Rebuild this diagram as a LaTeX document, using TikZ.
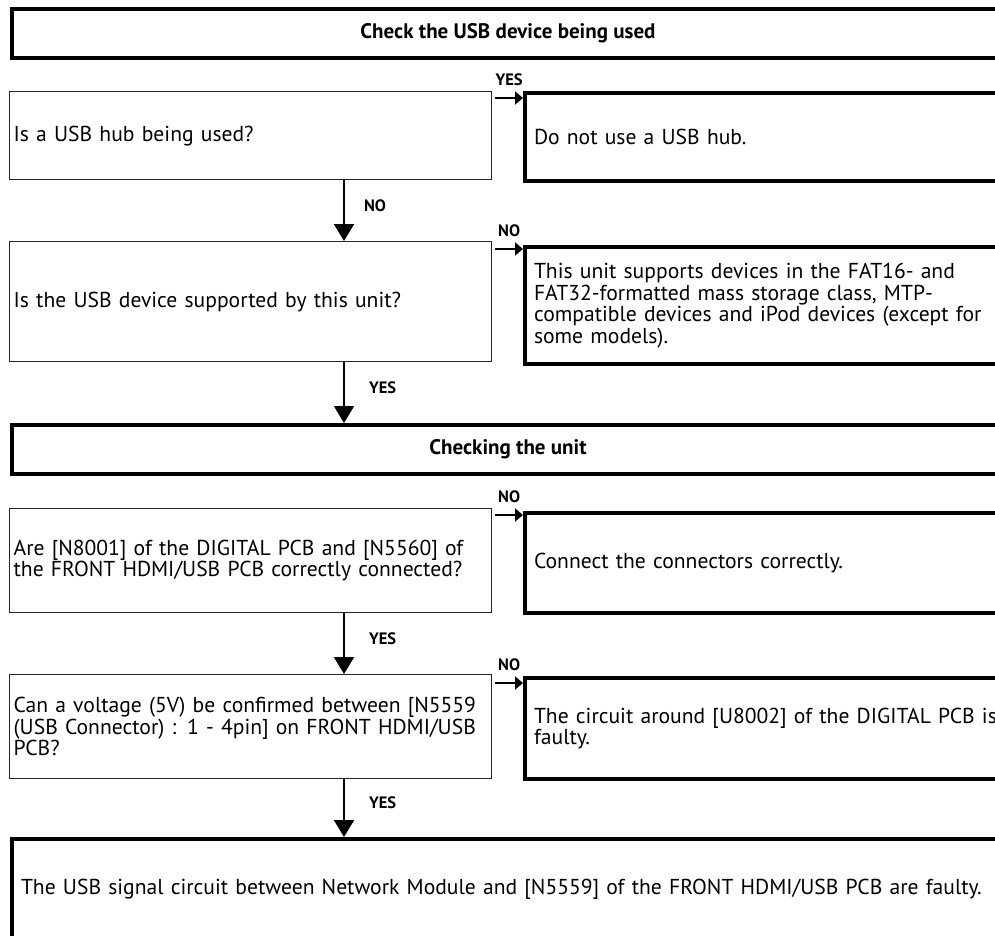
\documentclass[tikz,border=0pt]{standalone}
\usepackage{fontspec}
\setmainfont{PT Sans}
\usetikzlibrary{arrows.meta}

\begin{document}
\begin{tikzpicture}[x=1pt,y=-1pt,font=\fontsize{21.6}{21.5}\selectfont,
    headbox/.style={draw,line width=4pt,anchor=north west,minimum width=992pt,
        minimum height=49pt,inner sep=0pt,font=\fontsize{21}{22}\selectfont\bfseries},
    askbox/.style={draw=black!85,line width=1.3pt,anchor=north west,align=left,
        minimum width=482pt,text width=474pt,inner xsep=4pt,inner ysep=0pt},
    actbox/.style={draw,line width=4pt,anchor=north west,align=left,
        minimum width=490pt,text width=475pt,inner xsep=9pt,inner ysep=0pt},
    endbox/.style={draw,line width=4pt,anchor=north west,align=left,
        minimum width=1000pt,text width=985pt,inner xsep=9pt,inner ysep=0pt},
    downarrow/.style={line width=2pt,-{Triangle[width=20pt,length=17pt]}},
    sidearrow/.style={line width=2pt,-{Triangle[width=13pt,length=8pt]}},
    answer/.style={font=\fontsize{16.5}{18}\selectfont\bfseries,inner sep=0pt}]

    \useasboundingbox (0,0) rectangle (995,936);
    \clip (0,0) rectangle (995,936);

    \node[headbox] (check) at (10,7) {Check the USB device being used};

    \node[askbox,minimum height=88pt] (hub) at (9,91)
        {Is a USB hub being used?};
    \node[actbox,minimum height=88pt] (nohub) at (523,91)
        {Do not use a USB hub.};

    \node[askbox,minimum height=120pt] (support) at (9,241)
        {Is the USB device supported by this unit?};
    \node[actbox,minimum height=117pt] (classes) at (523,245)
        {This unit supports devices in the FAT16- and\\
         FAT32-formatted mass storage class, MTP-\\
         compatible devices and iPod devices (except for\\
         some models).};

    \node[headbox] (unit) at (10,423) {Checking the unit};

    \node[askbox,minimum height=104pt] (conn) at (9,508)
        {Are [N8001] of the DIGITAL PCB and [N5560] of\\
         the FRONT HDMI/USB PCB correctly connected?};
    \node[actbox,minimum height=100pt] (fixconn) at (523,511)
        {Connect the connectors correctly.};

    \node[askbox,minimum height=104pt] (volt) at (9,674)
        {Can a voltage (5V) be confirmed between [N5559\\
         (USB Connector) : 1 - 4pin] on FRONT HDMI/USB\\
         PCB?};
    \node[actbox,minimum height=101pt] (around) at (523,676)
        {The circuit around [U8002] of the DIGITAL PCB is\\
         faulty.};

    \node[endbox,minimum height=100pt] (signal) at (10,837)
        {The USB signal circuit between Network Module and [N5559] of the FRONT HDMI/USB PCB are faulty.};

    % down the left column
    \draw[downarrow] ([xshift=335pt]hub.south west) -- ([xshift=335pt]support.north west)
        node[answer,midway,anchor=west,xshift=19pt,yshift=5pt] (no1) {NO};
    \draw[downarrow] ([xshift=335pt]support.south west) -- ([xshift=334pt]unit.north west)
        node[answer,midway,anchor=west,xshift=24pt,yshift=5pt] (yes1) {YES};
    \draw[downarrow] ([xshift=335pt]conn.south west) -- ([xshift=335pt]volt.north west)
        node[answer,midway,anchor=west,xshift=24pt,yshift=5pt] (yes2) {YES};
    \draw[downarrow] ([xshift=335pt]volt.south west) -- ([xshift=334pt]signal.north west)
        node[answer,midway,anchor=west,xshift=24pt,yshift=5pt] (yes3) {YES};

    % out to the right
    \draw[sidearrow] ([shift={(3,7)}]hub.north east) -- ([yshift=-7pt]hub.north east -| nohub.west)
        node[answer,midway,above=11pt] (yes0) {YES};
    \draw[sidearrow] ([shift={(3,8)}]support.north east) -- ([yshift=-8pt]support.north east -| classes.west)
        node[answer,midway,above=11pt] (no2) {NO};
    \draw[sidearrow] ([shift={(3,7)}]conn.north east) -- ([yshift=-7pt]conn.north east -| fixconn.west)
        node[answer,midway,above=11pt] (no3) {NO};
    \draw[sidearrow] ([shift={(3,9)}]volt.north east) -- ([yshift=-9pt]volt.north east -| around.west)
        node[answer,midway,above=11pt] (no4) {NO};
\end{tikzpicture}
\end{document}
